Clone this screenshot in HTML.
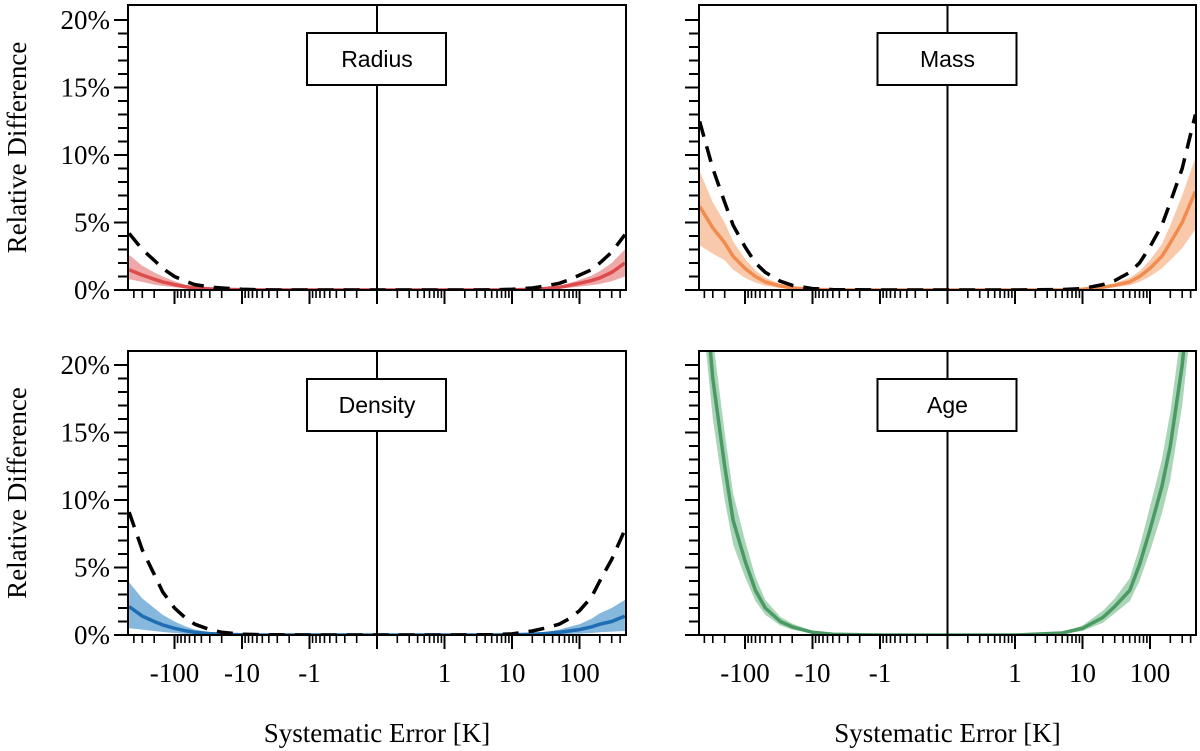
<!DOCTYPE html>
<html><head><meta charset="utf-8"><style>
html,body{margin:0;padding:0;background:#fff;}
svg{display:block;}
text{font-family:"Liberation Serif",serif;}
</style></head><body>
<svg id="fig" width="1200" height="751" viewBox="0 0 1200 751" xmlns="http://www.w3.org/2000/svg"></svg>
<script>
// ---- data ----
const xPoints = [-470, -300, -200, -150, -100, -70, -50, -30, -20, -10, -5, -1, 0, 1, 5, 10, 20, 30, 50, 70, 100, 150, 200, 300, 470];
const radiusMed  = [1.5, 1.1, 0.8, 0.6, 0.4, 0.25, 0.15, 0.08, 0.05, 0.02, 0, 0, 0, 0, 0, 0.01, 0.05, 0.1, 0.2, 0.33, 0.5, 0.7, 0.9, 1.3, 2.0];
const radiusLo   = [0.8, 0.6, 0.4, 0.3, 0.2, 0.12, 0.07, 0.04, 0.02, 0.01, 0, 0, 0, 0, 0, 0, 0.02, 0.05, 0.1, 0.17, 0.25, 0.35, 0.45, 0.65, 1.0];
const radiusHi   = [2.6, 1.8, 1.3, 1.0, 0.65, 0.4, 0.25, 0.13, 0.08, 0.03, 0, 0, 0, 0, 0, 0.02, 0.08, 0.16, 0.3, 0.5, 0.75, 1.05, 1.4, 2.0, 3.0];
const radiusDash = [4.2, 3.0, 2.2, 1.6, 1.0, 0.65, 0.4, 0.22, 0.15, 0.05, 0.01, 0, 0, 0, 0.01, 0.05, 0.15, 0.28, 0.5, 0.75, 1.1, 1.5, 2.0, 2.8, 4.1];
const massMed  = [6.2, 4.6, 3.5, 2.5, 1.6, 1.0, 0.6, 0.3, 0.15, 0.05, 0.01, 0, 0, 0, 0.01, 0.05, 0.2, 0.35, 0.6, 1.0, 1.6, 2.5, 3.5, 5.0, 7.3];
const massLo   = [3.3, 2.7, 2.2, 1.5, 0.9, 0.55, 0.3, 0.15, 0.08, 0.02, 0, 0, 0, 0, 0, 0.02, 0.1, 0.2, 0.35, 0.6, 1.0, 1.6, 2.2, 3.1, 4.5];
const massHi   = [8.8, 6.5, 5.0, 3.6, 2.3, 1.45, 0.9, 0.45, 0.25, 0.08, 0.02, 0, 0, 0, 0.02, 0.08, 0.3, 0.5, 0.9, 1.4, 2.2, 3.4, 4.8, 7.0, 9.8];
const massDash = [12.5, 9.0, 6.5, 4.8, 3.2, 2.0, 1.3, 0.65, 0.35, 0.1, 0.03, 0, 0, 0, 0.03, 0.1, 0.4, 0.7, 1.3, 2.0, 3.2, 4.8, 6.5, 9.0, 13.0];
const densMed  = [2.1, 1.4, 1.0, 0.75, 0.5, 0.32, 0.2, 0.1, 0.05, 0.02, 0, 0, 0, 0, 0, 0.02, 0.05, 0.1, 0.2, 0.3, 0.4, 0.6, 0.8, 1.0, 1.4];
const densLo   = [0.5, 0.4, 0.3, 0.22, 0.15, 0.08, 0.05, 0.02, 0.01, 0, 0, 0, 0, 0, 0, 0, 0.01, 0.02, 0.05, 0.08, 0.1, 0.15, 0.2, 0.25, 0.3];
const densHi   = [3.9, 2.7, 2.0, 1.5, 1.0, 0.65, 0.4, 0.2, 0.1, 0.04, 0, 0, 0, 0, 0, 0.04, 0.1, 0.2, 0.4, 0.6, 0.8, 1.2, 1.6, 2.0, 2.6];
const densDash = [9.1, 6.3, 4.5, 3.2, 2.0, 1.3, 0.8, 0.4, 0.2, 0.06, 0.02, 0, 0, 0, 0.02, 0.08, 0.3, 0.5, 0.8, 1.2, 1.8, 2.8, 4.0, 5.6, 7.8];
const ageMed = [30, 19, 12.5, 8.5, 5.5, 3.3, 2.0, 1.0, 0.6, 0.2, 0.05, 0, 0, 0, 0.15, 0.5, 1.3, 2.1, 3.3, 5.2, 7.8, 11, 14, 20, 30];
const ageLo  = [26, 16, 10, 6.7, 4.3, 2.5, 1.5, 0.7, 0.4, 0.12, 0.02, 0, 0, 0, 0.08, 0.3, 0.9, 1.6, 2.5, 4.0, 6.2, 9.0, 11.5, 17, 26];
const ageHi  = [34, 22, 15, 10.5, 7.0, 4.3, 2.6, 1.35, 0.85, 0.3, 0.08, 0, 0, 0, 0.22, 0.7, 1.8, 2.7, 4.2, 6.5, 9.5, 13, 16.5, 23, 34];
const yTicks = [0, 5, 10, 15, 20];
const yTickLabels = ["0%", "5%", "10%", "15%", "20%"];
const xTicks = [-100, -10, -1, 1, 10, 100];
const xTickLabels = ["-100", "-10", "-1", "1", "10", "100"];

const NS = "http://www.w3.org/2000/svg";
const svg = document.getElementById("fig");
function el(tag, attrs, parent) {
  const e = document.createElementNS(NS, tag);
  for (const k in attrs) e.setAttribute(k, attrs[k]);
  (parent || svg).appendChild(e);
  return e;
}
const DEC = 67.5;
function makeX(cx) {
  return function (v) {
    const a = Math.abs(v), s = Math.sign(v);
    const d = a <= 1 ? a * DEC : DEC + Math.log10(a) * DEC;
    return cx + s * d;
  };
}
function makeY(y0) { return v => y0 - v * 13.5; }

const panels = [
  {name: "radius", label: "Radius", l: 128, r: 626, top: 5, y0: 290, med: radiusMed, lo: radiusLo, hi: radiusHi, dash: radiusDash, line: "#dc4c4c", fill: "#eea3a3", left: true, bottom: false},
  {name: "mass", label: "Mass", l: 699, r: 1196, top: 5, y0: 290, med: massMed, lo: massLo, hi: massHi, dash: massDash, line: "#f28b4e", fill: "#f8c7a6", left: false, bottom: false},
  {name: "density", label: "Density", l: 128, r: 626, top: 351, y0: 635, med: densMed, lo: densLo, hi: densHi, dash: densDash, line: "#1f6eb3", fill: "#7fb3da", left: true, bottom: true},
  {name: "age", label: "Age", l: 699, r: 1196, top: 351, y0: 635, med: ageMed, lo: ageLo, hi: ageHi, dash: null, line: "#4b9a63", fill: "#a7d3b4", left: false, bottom: true}
];

panels.forEach((p, i) => {
  const cx = (p.l + p.r) / 2;
  const X = makeX(cx), Y = makeY(p.y0);
  const g = el("g", {});
  
  
  const clipId = "clip" + i;
  const cp = el("clipPath", {id: clipId}, g);
  el("rect", {x: p.l, y: p.top, width: p.r - p.l, height: p.y0 - p.top}, cp);
  const data = el("g", {"clip-path": "url(#" + clipId + ")"}, g);
  let d = "M" + xPoints.map((x, k) => X(x).toFixed(1) + "," + Y(p.hi[k]).toFixed(1)).join("L");
  for (let k = xPoints.length - 1; k >= 0; k--) d += "L" + X(xPoints[k]).toFixed(1) + "," + Y(p.lo[k]).toFixed(1);
  const band = el("path", {d: d + "Z", fill: p.fill, "fill-opacity": "0.95", stroke: "none"}, data);
  
  
  const ml = el("path", {d: "M" + xPoints.map((x, k) => X(x).toFixed(1) + "," + Y(p.med[k]).toFixed(1)).join("L"), fill: "none", stroke: p.line, "stroke-width": 3.5, "stroke-linejoin": "round"}, data);
  
  
  if (p.dash) {
    const dl = el("path", {d: "M" + xPoints.map((x, k) => X(x).toFixed(1) + "," + Y(p.dash[k]).toFixed(1)).join("L"), fill: "none", stroke: "#000", "stroke-width": 3.5, "stroke-dasharray": "16,10", "stroke-linejoin": "round"}, data);
    
    
  }
  el("rect", {x: p.l, y: p.top, width: p.r - p.l, height: p.y0 - p.top, fill: "none", stroke: "#000", "stroke-width": 2}, g);
  el("line", {x1: cx, x2: cx, y1: p.top, y2: p.y0 + 14, stroke: "#000", "stroke-width": 2}, g);
  for (let v = 0; v <= 20; v++) {
    const major = v % 5 === 0;
    el("line", {x1: p.l - (major ? 14 : 10), x2: p.l, y1: Y(v), y2: Y(v), stroke: "#000", "stroke-width": 2}, g);
  }
  if (p.left) {
    yTicks.forEach((v, k) => {
      const t = el("text", {x: p.l - 18, y: Y(v) + 9, "text-anchor": "end", "font-size": 27}, g);
      t.textContent = yTickLabels[k];
      
      
    });
  }
  [0].concat(xTicks).forEach(v => {
    el("line", {x1: X(v), x2: X(v), y1: p.y0, y2: p.y0 + 14, stroke: "#000", "stroke-width": 2}, g);
  });
  const minors = [];
  [1, 10, 100].forEach(dc => { for (let m = 2; m <= 9; m++) if (dc * m <= 470) minors.push(dc * m); });
  minors.forEach(v => {
    [v, -v].forEach(s => el("line", {x1: X(s), x2: X(s), y1: p.y0, y2: p.y0 + 8, stroke: "#000", "stroke-width": 1.6}, g));
  });
  // minor ticks in the linear region, log-spaced below |x|=1
  for (let m = 2; m <= 9; m++) {
    const off = DEC * (1 + Math.log10(m / 10));
    [cx + off, cx - off].forEach(px => el("line", {x1: px, x2: px, y1: p.y0, y2: p.y0 + 8, stroke: "#000", "stroke-width": 1.6}, g));
  }
  if (p.bottom) {
    xTicks.forEach((v, k) => {
      const t = el("text", {x: X(v), y: 682, "text-anchor": "middle", "font-size": 27}, g);
      t.textContent = xTickLabels[k];
      
      
    });
    const xt = el("text", {x: cx, y: 742, "text-anchor": "middle", "font-size": 27}, g);
    xt.textContent = "Systematic Error [K]";
    
    
  }
  if (p.left) {
    const yc = (p.top + p.y0) / 2;
    const yt = el("text", {x: 0, y: 0, transform: "translate(26," + yc + ") rotate(-90)", "text-anchor": "middle", "font-size": 27}, g);
    yt.textContent = "Relative Difference";
    
    
  }
  const by = p.top + 28;
  const lb = el("rect", {x: cx - 70, y: by, width: 139, height: 52, fill: "#fff", stroke: "#000", "stroke-width": 2}, g);
  
  
  const lt = el("text", {x: cx, y: by + 34, "text-anchor": "middle", "font-size": 23, style: "font-family:'Liberation Sans',sans-serif"}, g);
  lt.textContent = p.label;
  
  
});
</script>
</body></html>
